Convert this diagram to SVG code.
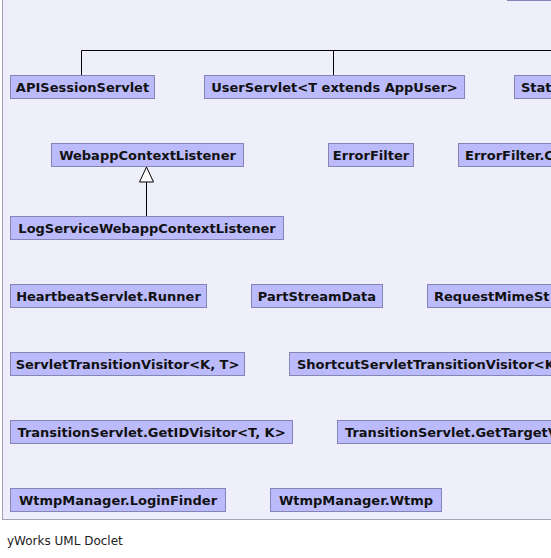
<svg xmlns="http://www.w3.org/2000/svg" width="551" height="558" viewBox="0 0 551 558">
<defs>
<style>
.panel{fill:#efeffb;stroke:#a3a3b3;stroke-width:1}
.node rect{fill:#bbbbfb;stroke:#8585b5;stroke-width:1}
.node text{font-family:"DejaVu Sans",sans-serif;font-weight:bold;font-size:13px;fill:#111}
.c{text-anchor:middle}
.edge{fill:none;stroke:#000;stroke-width:1}
.footer{font-family:"DejaVu Sans",sans-serif;font-size:12px;fill:#222}
</style>
</defs>
<rect width="551" height="558" fill="#ffffff"/>
<rect class="panel" x="2.5" y="-10" width="600" height="529.5"/>
<g id="connectors">
<path class="edge" d="M81.5,75 V50.5 H560 M333.5,50.5 V75"/>
<path class="edge" d="M146.5,216 V182"/>
<polygon points="146.5,167 139.5,182 153.5,182" fill="#ffffff" stroke="#000" stroke-width="1"/>
</g>
<g id="n_top" class="node"><rect x="507.5" y="-22.5" width="100" height="23"/></g>
<g id="n_api" class="node"><rect x="10.5" y="75.5" width="144" height="23"/><text class="c" x="82.5" y="92">APISessionServlet</text></g>
<g id="n_user" class="node"><rect x="204.5" y="75.5" width="260" height="23"/><text class="c" x="334.5" y="92">UserServlet&lt;T extends AppUser&gt;</text></g>
<g id="n_stat" class="node"><rect x="514.5" y="75.5" width="100" height="23"/><text x="521" y="92">Stat</text></g>
<g id="n_webapp" class="node"><rect x="51.5" y="143.5" width="192" height="23"/><text class="c" x="147.5" y="160">WebappContextListener</text></g>
<g id="n_errorfilter" class="node"><rect x="328.5" y="143.5" width="85" height="23"/><text class="c" x="371" y="160">ErrorFilter</text></g>
<g id="n_errorfilterc" class="node"><rect x="458.5" y="143.5" width="120" height="23"/><text x="465" y="160">ErrorFilter.C</text></g>
<g id="n_logservice" class="node"><rect x="10.5" y="216.5" width="273" height="23"/><text class="c" x="147" y="233">LogServiceWebappContextListener</text></g>
<g id="n_heartbeat" class="node"><rect x="10.5" y="284.5" width="196" height="23"/><text class="c" x="108.5" y="301">HeartbeatServlet.Runner</text></g>
<g id="n_partstream" class="node"><rect x="251.5" y="284.5" width="131" height="23"/><text class="c" x="317" y="301">PartStreamData</text></g>
<g id="n_requestmime" class="node"><rect x="427.5" y="284.5" width="160" height="23"/><text x="434" y="301">RequestMimeSt</text></g>
<g id="n_servlettv" class="node"><rect x="10.5" y="352.5" width="234" height="23"/><text class="c" x="127.5" y="369">ServletTransitionVisitor&lt;K, T&gt;</text></g>
<g id="n_shortcut" class="node"><rect x="289.5" y="352.5" width="300" height="23"/><text x="297" y="369">ShortcutServletTransitionVisitor&lt;K</text></g>
<g id="n_getid" class="node"><rect x="10.5" y="420.5" width="282" height="23"/><text class="c" x="151.5" y="437">TransitionServlet.GetIDVisitor&lt;T, K&gt;</text></g>
<g id="n_gettarget" class="node"><rect x="337.5" y="420.5" width="260" height="23"/><text x="345" y="437">TransitionServlet.GetTargetV</text></g>
<g id="n_loginfinder" class="node"><rect x="10.5" y="488.5" width="215" height="23"/><text class="c" x="118" y="505">WtmpManager.LoginFinder</text></g>
<g id="n_wtmp" class="node"><rect x="270.5" y="488.5" width="171" height="23"/><text class="c" x="356" y="505">WtmpManager.Wtmp</text></g>
<text class="footer" x="7" y="545">yWorks UML Doclet</text>
</svg>
